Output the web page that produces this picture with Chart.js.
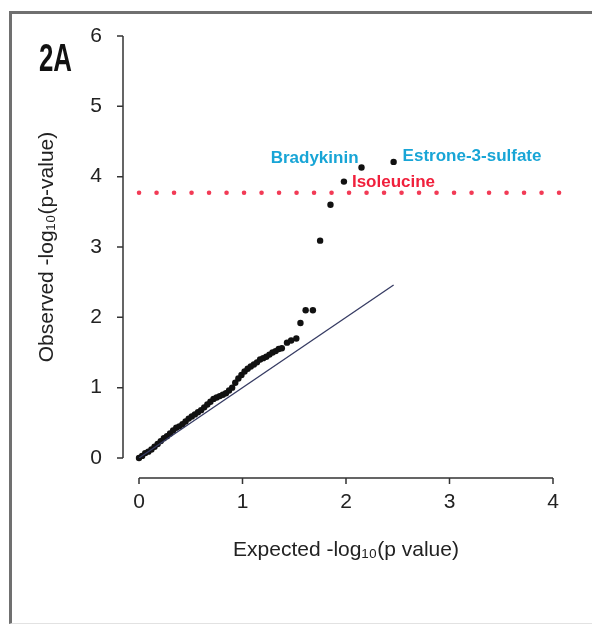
<!DOCTYPE html>
<html>
<head>
<meta charset="utf-8">
<script src="https://cdn.jsdelivr.net/npm/chart.js@4"></script>
<style>
  body { margin: 0; background: #fff; }
  #frame {
    position: absolute; left: 9px; top: 11px; width: 700px; height: 609px;
    border-left: 3px solid #707070; border-top: 3px solid #707070;
    border-bottom: 1px solid #e2e2e2;
  }
  #qq { position: absolute; left: 0; top: 0; }
</style>
</head>
<body>
<div id="frame"></div>
<canvas id="qq" width="592" height="626"></canvas>
<script>
// expected vs observed -log10(p)
const expected = [0.00, 0.03, 0.06, 0.09, 0.12, 0.15, 0.18, 0.21, 0.24, 0.27,
  0.30, 0.33, 0.36, 0.39, 0.42, 0.45, 0.48, 0.51, 0.54, 0.57,
  0.60, 0.63, 0.66, 0.69, 0.72, 0.75, 0.78, 0.81, 0.84, 0.87,
  0.90, 0.93, 0.96, 0.99, 1.02, 1.05, 1.08, 1.11, 1.14, 1.17,
  1.20, 1.23, 1.26, 1.29, 1.32, 1.35, 1.38, 1.43, 1.47, 1.52,
  1.56, 1.61, 1.68, 1.75, 1.85, 1.98, 2.15, 2.46];
const observed = [0.00, 0.03, 0.07, 0.09, 0.12, 0.16, 0.20, 0.24, 0.28, 0.31,
  0.35, 0.39, 0.43, 0.45, 0.48, 0.52, 0.56, 0.59, 0.62, 0.65,
  0.68, 0.72, 0.76, 0.80, 0.84, 0.86, 0.88, 0.90, 0.92, 0.96,
  1.00, 1.07, 1.13, 1.18, 1.23, 1.27, 1.30, 1.33, 1.36, 1.40,
  1.42, 1.44, 1.47, 1.50, 1.52, 1.55, 1.56, 1.64, 1.67, 1.70,
  1.92, 2.10, 2.10, 3.09, 3.60, 3.93, 4.13, 4.21];

const xTicks = [0, 1, 2, 3, 4];
const yTicks = [0, 1, 2, 3, 4, 5, 6];
const threshold = 3.77;         // significance line
const thresholdEnd = 4.21;      // red dots run a bit past the last tick
const maxExpected = 2.46;

// named metabolites: index into the arrays above
const labelNames = ['Estrone-3-sulfate', 'Bradykinin', 'Isoleucine'];
const labelIndex = [57, 56, 55];
const labelColors = ['#18a5d6', '#18a5d6', '#f0203c'];

const points = expected.map((x, i) => ({ x: x, y: observed[i] }));

// R style detached axes
const rAxes = {
  id: 'rAxes',
  afterDraw(chart) {
    const { ctx, chartArea, scales: { x, y } } = chart;
    const ax = chartArea.left - 16;
    const ay = chartArea.bottom + 20;
    ctx.save();
    ctx.strokeStyle = '#333';
    ctx.lineWidth = 1.5;
    ctx.beginPath();
    ctx.moveTo(ax, y.getPixelForValue(yTicks[0]));
    ctx.lineTo(ax, y.getPixelForValue(yTicks[yTicks.length - 1]));
    yTicks.forEach(v => {
      const py = y.getPixelForValue(v);
      ctx.moveTo(ax - 6, py); ctx.lineTo(ax, py);
    });
    ctx.moveTo(x.getPixelForValue(xTicks[0]), ay);
    ctx.lineTo(x.getPixelForValue(xTicks[xTicks.length - 1]), ay);
    xTicks.forEach(v => {
      const px = x.getPixelForValue(v);
      ctx.moveTo(px, ay); ctx.lineTo(px, ay + 6);
    });
    ctx.stroke();

    // panel tag
    ctx.fillStyle = '#111';
    ctx.font = 'bold 38px "Liberation Sans", Arial, sans-serif';
    ctx.textBaseline = 'alphabetic';
    ctx.translate(39, 71);
    ctx.scale(0.68, 1);
    ctx.fillText('2A', 0, 0);
    ctx.restore();
  }
};

const pointLabels = {
  id: 'pointLabels',
  afterDatasetsDraw(chart) {
    const { ctx, scales: { x, y } } = chart;
    ctx.save();
    ctx.font = 'bold 17px "Liberation Sans", Arial, sans-serif';
    ctx.textBaseline = 'middle';
    labelNames.forEach((name, k) => {
      const i = labelIndex[k];
      const px = x.getPixelForValue(expected[i]);
      const py = y.getPixelForValue(observed[i]);
      ctx.fillStyle = labelColors[k];
      if (name === 'Bradykinin') {
        ctx.textAlign = 'right';
        ctx.fillText(name, px - 3, py - 9);
      } else if (name === 'Estrone-3-sulfate') {
        ctx.textAlign = 'left';
        ctx.fillText(name, px + 9, py - 6);
      } else {
        ctx.textAlign = 'left';
        ctx.fillText(name, px + 8, py + 1);
      }
    });
    ctx.restore();
  }
};

const tickFont = { family: '"Liberation Sans", Arial, sans-serif', size: 21 };
const titleFont = { family: '"Liberation Sans", Arial, sans-serif', size: 21 };

new Chart(document.getElementById('qq'), {
  type: 'scatter',
  data: {
    datasets: [
      {
        label: 'threshold',
        data: [{ x: 0, y: threshold }, { x: thresholdEnd, y: threshold }],
        showLine: true,
        borderColor: '#f23a55',
        borderWidth: 4.5,
        borderDash: [0.1, 17.4],
        borderCapStyle: 'round',
        pointRadius: 0,
        clip: false
      },
      {
        label: 'expected',
        data: [{ x: 0, y: 0 }, { x: maxExpected, y: maxExpected }],
        showLine: true,
        borderColor: '#363b63',
        borderWidth: 1.3,
        pointRadius: 0
      },
      {
        label: 'metabolites',
        data: points,
        backgroundColor: '#111',
        borderWidth: 0,
        pointRadius: 3.2,
        clip: false
      }
    ]
  },
  options: {
    responsive: false,
    animation: false,
    layout: { padding: { left: 0, top: 36, right: 39, bottom: 0 } },
    plugins: { legend: { display: false }, tooltip: { enabled: false } },
    scales: {
      x: {
        type: 'linear',
        min: 0, max: 4,
        afterFit: s => { s.height = 168; s.paddingLeft = 0; s.paddingRight = 0; },
        afterBuildTicks: s => { s.ticks = xTicks.map(v => ({ value: v })); },
        grid: { display: false, drawTicks: false, tickLength: 0 },
        border: { display: false },
        ticks: { font: tickFont, color: '#222', padding: 32, maxRotation: 0 },
        title: {
          display: true,
          text: 'Expected -log₁₀(p value)',
          font: titleFont, color: '#222',
          padding: { top: 0, bottom: 63 }
        }
      },
      y: {
        type: 'linear',
        min: 0, max: 6,
        afterFit: s => { s.width = 139; s.paddingTop = 0; s.paddingBottom = 0; },
        afterBuildTicks: s => { s.ticks = yTicks.map(v => ({ value: v })); },
        grid: { display: false, drawTicks: false, tickLength: 0 },
        border: { display: false },
        ticks: { font: tickFont, color: '#222', padding: 37 },
        title: {
          display: true,
          text: 'Observed -log₁₀(p-value)',
          font: titleFont, color: '#222',
          padding: { top: 35, bottom: 0 }
        }
      }
    }
  },
  plugins: [rAxes, pointLabels]
});
</script>
</body>
</html>
